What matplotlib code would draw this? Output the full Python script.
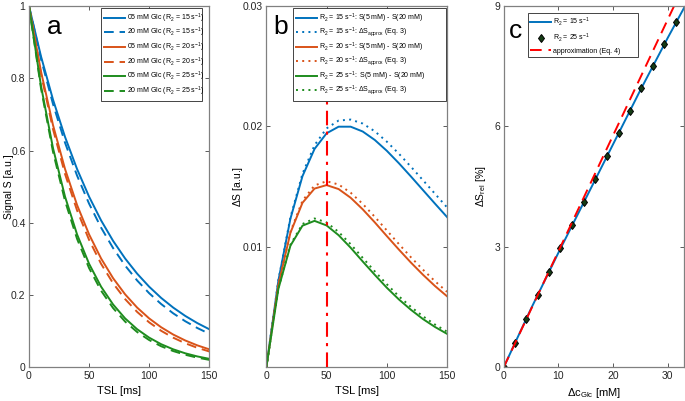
import matplotlib
matplotlib.use("Agg")
import matplotlib.pyplot as plt

# ── data ─────────────────────────────────────────────────────────────
tsl = [0, 10, 20, 30, 40, 50, 60, 70, 80, 90, 100, 110, 120, 130, 140, 150]

# panel a: signal S vs TSL
s05_r15 = [1.0, 0.8607, 0.7408, 0.6376, 0.5488, 0.4724, 0.4066, 0.3499, 0.3012, 0.2592,
           0.2231, 0.1920, 0.1653, 0.1423, 0.1225, 0.1054]
s20_r15 = [1.0, 0.8535, 0.7285, 0.6217, 0.5307, 0.4530, 0.3866, 0.3299, 0.2816, 0.2403,
           0.2051, 0.1751, 0.1494, 0.1276, 0.1089, 0.0929]
s05_r20 = [1.0, 0.8187, 0.6703, 0.5488, 0.4493, 0.3679, 0.3012, 0.2466, 0.2019, 0.1653,
           0.1353, 0.1108, 0.0907, 0.0743, 0.0608, 0.0498]
s20_r20 = [1.0, 0.8119, 0.6591, 0.5351, 0.4345, 0.3528, 0.2864, 0.2325, 0.1888, 0.1533,
           0.1244, 0.1010, 0.0820, 0.0666, 0.0541, 0.0439]
s05_r25 = [1.0, 0.7788, 0.6065, 0.4724, 0.3679, 0.2865, 0.2231, 0.1738, 0.1353, 0.1054,
           0.0821, 0.0639, 0.0498, 0.0388, 0.0302, 0.0235]
s20_r25 = [1.0, 0.7723, 0.5964, 0.4606, 0.3557, 0.2747, 0.2121, 0.1639, 0.1265, 0.0977,
           0.0755, 0.0583, 0.0450, 0.0348, 0.0268, 0.0207]

# panel b: signal difference, exact and approximate
ds_r15 = [0, 0.00720, 0.01234, 0.01587, 0.01813, 0.01943, 0.01998, 0.01998, 0.01958, 0.01888,
          0.01798, 0.01695, 0.01585, 0.01472, 0.01359, 0.01248]
dsa_r15 = [0, 0.00723, 0.01245, 0.01607, 0.01844, 0.01984, 0.02049, 0.02057, 0.02024, 0.01960,
           0.01874, 0.01774, 0.01666, 0.01554, 0.01441, 0.01328]
ds_r20 = [0, 0.00684, 0.01117, 0.01366, 0.01484, 0.01513, 0.01480, 0.01408, 0.01312, 0.01204,
          0.01090, 0.00978, 0.00870, 0.00769, 0.00675, 0.00590]
dsa_r20 = [0, 0.00688, 0.01126, 0.01383, 0.01510, 0.01545, 0.01518, 0.01450, 0.01357, 0.01250,
           0.01137, 0.01024, 0.00914, 0.00811, 0.00715, 0.00627]
ds_r25 = [0, 0.00651, 0.01010, 0.01176, 0.01216, 0.01178, 0.01097, 0.00993, 0.00879, 0.00768,
          0.00661, 0.00564, 0.00478, 0.00401, 0.00335, 0.00278]
dsa_r25 = [0, 0.00654, 0.01019, 0.01190, 0.01236, 0.01203, 0.01124, 0.01022, 0.00909, 0.00797,
           0.00690, 0.00590, 0.00502, 0.00424, 0.00355, 0.00296]
tsl_marker = 50

# panel c: relative signal change vs glucose concentration change
dc_line = [0, 5, 10, 15, 20, 25, 30, 34]
dsrel_r15 = [0, 1.46, 2.85, 4.20, 5.55, 6.90, 8.20, 9.20]
dc_pts = [0, 2.07, 4.1, 6.2, 8.3, 10.4, 12.5, 14.7, 16.8, 18.9, 21.05, 23.2, 25.2, 27.3, 29.4, 31.6]
dsrel_r25 = [0, 0.61, 1.20, 1.79, 2.37, 2.96, 3.54, 4.12, 4.69, 5.26, 5.83, 6.39, 6.95, 7.51, 8.06, 8.61]
dc_approx = [0, 34]
dsrel_approx = [0, 9.81]

BLUE, ORANGE, GREEN, RED = "#0072BD", "#D95319", "#1E8C1E", "#FF0000"
LW = 1.4

plt.rcParams["font.family"] = ["Liberation Sans", "DejaVu Sans"]
plt.rcParams["mathtext.fontset"] = "custom"
plt.rcParams["mathtext.rm"] = "Liberation Sans"
plt.rcParams["mathtext.it"] = "Liberation Sans"

fig = plt.figure(figsize=(6.85, 4.01), dpi=100)
ax_a = fig.add_axes([0.0423, 0.084, 0.2632, 0.901])
ax_b = fig.add_axes([0.3888, 0.084, 0.2638, 0.901])
ax_c = fig.add_axes([0.7353, 0.084, 0.2632, 0.901])


def style(ax):
    for s in ax.spines.values():
        s.set_color("#808080")
        s.set_linewidth(0.9)
    ax.tick_params(direction="in", top=True, right=True, length=3, width=0.6,
                   color="#404040", labelsize=7.5, labelcolor="#262626", pad=2.5)


def legend(ax, box, spacing=0.2, pad=0.45):
    # box = (x0, y0, width, height) in axes fraction, legend fills its width
    leg = ax.legend(fontsize=5, fancybox=False, framealpha=1, edgecolor="#262626",
                    loc="upper left", bbox_to_anchor=box, mode="expand",
                    handlelength=3.0, handletextpad=0.3, labelspacing=spacing,
                    borderpad=pad, borderaxespad=0)
    leg.get_frame().set_linewidth(0.6)
    leg.set_zorder(10)
    return leg


# ── a ──
dash = (0, (5, 3))
ax_a.plot(tsl, s05_r15, color=BLUE, lw=LW, label="05 mM Glc (R$_2$ = 15 s$^{-1}$)")
ax_a.plot(tsl, s20_r15, color=BLUE, lw=LW, ls=dash, label="20 mM Glc (R$_2$ = 15 s$^{-1}$)")
ax_a.plot(tsl, s05_r20, color=ORANGE, lw=LW, label="05 mM Glc (R$_2$ = 20 s$^{-1}$)")
ax_a.plot(tsl, s20_r20, color=ORANGE, lw=LW, ls=dash, label="20 mM Glc (R$_2$ = 20 s$^{-1}$)")
ax_a.plot(tsl, s05_r25, color=GREEN, lw=LW, label="05 mM Glc (R$_2$ = 25 s$^{-1}$)")
ax_a.plot(tsl, s20_r25, color=GREEN, lw=LW, ls=dash, label="20 mM Glc (R$_2$ = 25 s$^{-1}$)")
ax_a.set_xlim(0, 150)
ax_a.set_ylim(0, 1)
ax_a.set_xticks([0, 50, 100, 150])
ax_a.set_yticks([0, 0.2, 0.4, 0.6, 0.8, 1])
ax_a.set_yticklabels(["0", "0.2", "0.4", "0.6", "0.8", "1"])
ax_a.set_xlabel("TSL [ms]", fontsize=8)
ax_a.set_ylabel("Signal S [a.u.]", fontsize=7.5)
ax_a.yaxis.set_label_coords(-0.085, 0.5)
legend(ax_a, (0.40, 0.5, 0.56, 0.494))
ax_a.text(0.1, 0.975, "a", transform=ax_a.transAxes, fontsize=19, va="top")
style(ax_a)

# ── b ──
dot = (0, (1, 2.2))
ax_b.plot(tsl, ds_r15, color=BLUE, lw=LW, label="R$_2$ = 15 s$^{-1}$: S(5 mM) - S(20 mM)")
ax_b.plot(tsl, dsa_r15, color=BLUE, lw=LW, ls=dot,
          label="R$_2$ = 15 s$^{-1}$: $\\Delta$S$_{\\rm approx}$ (Eq. 3)")
ax_b.plot(tsl, ds_r20, color=ORANGE, lw=LW, label="R$_2$ = 20 s$^{-1}$: S(5 mM) - S(20 mM)")
ax_b.plot(tsl, dsa_r20, color=ORANGE, lw=LW, ls=dot,
          label="R$_2$ = 20 s$^{-1}$: $\\Delta$S$_{\\rm approx}$ (Eq. 3)")
ax_b.plot(tsl, ds_r25, color=GREEN, lw=LW, label="R$_2$ = 25 s$^{-1}$:  S(5 mM) - S(20 mM)")
ax_b.plot(tsl, dsa_r25, color=GREEN, lw=LW, ls=dot,
          label="R$_2$ = 25 s$^{-1}$: $\\Delta$S$_{\\rm approx}$ (Eq. 3)")
ax_b.axvline(tsl_marker, color=RED, lw=1.5, ls=(0, (7, 3, 1.5, 3)), zorder=5)
ax_b.set_xlim(0, 150)
ax_b.set_ylim(0, 0.03)
ax_b.set_xticks([0, 50, 100, 150])
ax_b.set_yticks([0.01, 0.02, 0.03])
ax_b.set_yticklabels(["0.01", "0.02", "0.03"])
ax_b.set_xlabel("TSL [ms]", fontsize=8)
ax_b.set_ylabel("$\\Delta$S [a.u.]", fontsize=7.5)
ax_b.yaxis.set_label_coords(-0.12, 0.5)
legend(ax_b, (0.148, 0.5, 0.845, 0.494))
ax_b.text(0.04, 0.975, "b", transform=ax_b.transAxes, fontsize=19, va="top")
style(ax_b)

# ── c ──
ax_c.plot(dc_line, dsrel_r15, color=BLUE, lw=LW, label="R$_2$ = 15 s$^{-1}$")
ax_c.plot(dc_pts, dsrel_r25, ls="none", marker="d", ms=4.5, mfc="#143c14", mec="black",
          mew=0.7, label="R$_2$ = 25 s$^{-1}$")
ax_c.plot(dc_approx, dsrel_approx, color=RED, lw=LW, ls=(0, (6, 3.5)),
          label="approximation (Eq. 4)")
ax_c.set_xlim(0, 33)
ax_c.set_ylim(0, 9)
ax_c.set_xticks([0, 10, 20, 30])
ax_c.set_yticks([0, 3, 6, 9])
ax_c.set_xlabel("$\\Delta$c$_{\\rm Glc}$ [mM]", fontsize=8)
ax_c.set_ylabel("$\\Delta$S$_{\\rm rel}$ [%]", fontsize=7.5)
ax_c.yaxis.set_label_coords(-0.085, 0.5)
legend(ax_c, (0.135, 0.5, 0.61, 0.48), spacing=0.5, pad=0.35)
ax_c.text(0.03, 0.965, "c", transform=ax_c.transAxes, fontsize=19, va="top")
style(ax_c)

fig.savefig("out.png", dpi=100)
